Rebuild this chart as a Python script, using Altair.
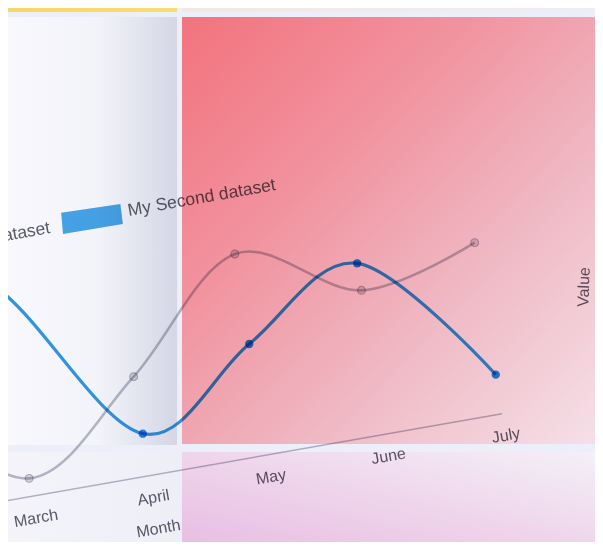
import altair as alt
import pandas as pd

# ---------------- data ----------------
axis_months = ["January", "February", "March", "April", "May", "June", "July"]
series_months = ["February", "March", "April", "May", "June", "July"]
first_dataset = [40, 6, 33, 67, 48, 57]
second_dataset = [97, 69, 14, 37, 57, 13]
series_names = ["My First dataset", "My Second dataset"]
x_title = "Month"
y_title = "Value"

# ---------------- layout ----------------
W, H = 587, 534          # view size (page is offset by the 8px body margin)
X0, Y0 = 8, 8
FOOT0 = 32.0             # baseline x of "March"
STEP = 117.5             # baseline distance between months
BASE0 = 502.0            # baseline y at x = 0
SLOPE = 0.176            # tilt of the baseline
SHEAR = 0.16             # lean of the vertical direction
UNIT = 3.0               # pixels per value unit
TEXT_ANGLE = 350
FONT = "Liberation Sans"
TEXT_COLOR = "#5c5c68"
GRAY = "#bbbcc6"
BLUE = "#3399e2"
BLEND = "multiply"

foot_expr = f"{FOOT0} + {STEP} * (datum.idx - 2)"
base_expr = f"{BASE0} - {SLOPE} * datum.foot"

xs = alt.Scale(domain=[X0, X0 + W], nice=False, zero=False)
ys = alt.Scale(domain=[Y0, Y0 + H], nice=False, zero=False, reverse=True)


def X(field):
    return alt.X(f"{field}:Q", scale=xs, axis=None)


def Y(field):
    return alt.Y(f"{field}:Q", scale=ys, axis=None)


def X2(field):
    return alt.X2(f"{field}:Q")


def Y2(field):
    return alt.Y2(f"{field}:Q")


# ---------------- decorative panels ----------------
def grad(stops, x1=0, y1=0, x2=1, y2=0):
    return {
        "gradient": "linear", "x1": x1, "y1": y1, "x2": x2, "y2": y2,
        "stops": [{"offset": o, "color": c} for o, c in stops],
    }


panels = [
    ((0, 177, 0, 12), grad([(0, "#f8d663"), (1, "#f9dc72")])),
    ((182, 603, 0, 12), grad([(0, "#f3e8e0"), (1, "#eeedf6")])),
    ((0, 177, 17, 445), grad([(0, "#f8f8fd"), (0.55, "#f3f4fa"), (1, "#d4d6e4")])),
    ((182, 603, 17, 444), grad([(0, "#f2737d"), (0.35, "#f194a0"), (0.62, "#efb5c0"), (1, "#f5e1e9")], 0, 0, 1, 1)),
    ((0, 177, 452, 550), grad([(0, "#f4f4fa"), (1, "#eeeef7")])),
    ((182, 603, 452, 550), grad([(0, "#e7bde2"), (0.45, "#eed2ea"), (1, "#f4f0f8")], 0, 1, 1, 0)),
]

layers = []
for (x0, x1, y0, y1), g in panels:
    d = pd.DataFrame({"x0": [x0], "x1": [x1], "y0": [y0], "y1": [y1]})
    layers.append(
        alt.Chart(d).mark_rect(fill=g, strokeWidth=0).encode(
            x=X("x0"), x2=X2("x1"), y=Y("y0"), y2=Y2("y1")
        )
    )

# ---------------- axis line ----------------
axis_df = pd.DataFrame({"i0": [0], "i1": [len(axis_months) - 1]})
axis_line = (
    alt.Chart(axis_df)
    .transform_calculate(
        f0=f"{FOOT0} + {STEP} * (datum.i0 - 2)",
        f1=f"{FOOT0} + {STEP} * (datum.i1 - 2)",
    )
    .transform_calculate(
        ya=f"{BASE0} - {SLOPE} * datum.f0",
        yb=f"{BASE0} - {SLOPE} * datum.f1",
    )
    .mark_rule(color="#b9b9c6", strokeWidth=1.5, blend=BLEND)
    .encode(x=X("f0"), y=Y("ya"), x2=X2("f1"), y2=Y2("yb"))
)
layers.append(axis_line)

# ---------------- tick labels & axis title ----------------
tick_df = pd.DataFrame({"label": axis_months, "idx": list(range(len(axis_months)))})
ticks = (
    alt.Chart(tick_df)
    .transform_calculate(foot=foot_expr)
    .transform_calculate(lx="datum.foot + 4", ly=f"{base_expr} + 22")
    .transform_filter(f"datum.lx > {X0}")
    .mark_text(font=FONT, fontSize=16, color=TEXT_COLOR, angle=TEXT_ANGLE,
               align="center", baseline="middle", blend=BLEND)
    .encode(x=X("lx"), y=Y("ly"), text="label:N")
)
layers.append(ticks)

title_df = pd.DataFrame({"label": [x_title], "idx": [3]})
xtitle = (
    alt.Chart(title_df)
    .transform_calculate(foot=foot_expr)
    .transform_calculate(lx="datum.foot + 9", ly=f"{base_expr} + 53")
    .mark_text(font=FONT, fontSize=16, color=TEXT_COLOR, angle=TEXT_ANGLE,
               align="center", baseline="middle", blend=BLEND)
    .encode(x=X("lx"), y=Y("ly"), text="label:N")
)
layers.append(xtitle)

ytitle_df = pd.DataFrame({"label": [y_title], "px": [584], "py": [287]})
layers.append(
    alt.Chart(ytitle_df)
    .mark_text(font=FONT, fontSize=16, color=TEXT_COLOR, angle=272,
               align="center", baseline="middle", blend=BLEND)
    .encode(x=X("px"), y=Y("py"), text="label:N")
)

# ---------------- series ----------------
rows = []
for name, vals in zip(series_names, [first_dataset, second_dataset]):
    for m, v in zip(series_months, vals):
        rows.append({"series": name, "month": m, "idx": axis_months.index(m), "value": v})
sdf = pd.DataFrame(rows)

base = (
    alt.Chart(sdf)
    .transform_calculate(foot=foot_expr)
    .transform_calculate(
        px=f"datum.foot - {SHEAR * UNIT} * datum.value",
        py=f"{base_expr} - {UNIT} * datum.value",
    )
)

color = alt.Color("series:N", scale=alt.Scale(domain=series_names, range=[GRAY, BLUE]), legend=None)

lines = base.mark_line(interpolate="cardinal", tension=0, blend=BLEND).encode(
    x=X("px"), y=Y("py"), color=color, order="idx:Q",
    strokeWidth=alt.StrokeWidth("series:N", scale=alt.Scale(domain=series_names, range=[2.6, 3.2]), legend=None),
)
layers.append(lines)

pts_first = base.transform_filter(alt.datum.series == series_names[0]).mark_circle(
    size=60, color="#dcdce2", stroke="#b0b1bb", strokeWidth=1.2, opacity=1, blend=BLEND
).encode(x=X("px"), y=Y("py"))
pts_second = base.transform_filter(alt.datum.series == series_names[1]).mark_circle(
    size=70, color="#2a8ae0", opacity=1, blend=BLEND
).encode(x=X("px"), y=Y("py"))
layers += [pts_first, pts_second]

# ---------------- legend ----------------
leg_box = pd.DataFrame({"px": [92], "py": [219]})
layers.append(
    alt.Chart(leg_box)
    .mark_point(shape="M-0.98,-0.2L0.9,-0.48L0.98,0.16L-0.92,0.48Z", size=3969,
                filled=True, color="#48a7e8", opacity=1, blend=BLEND)
    .encode(x=X("px"), y=Y("py"))
)
leg_second = pd.DataFrame({"label": [series_names[1]], "px": [128], "py": [211]})
layers.append(
    alt.Chart(leg_second)
    .mark_text(font=FONT, fontSize=17.5, color=TEXT_COLOR, angle=TEXT_ANGLE,
               align="left", baseline="middle", blend=BLEND)
    .encode(x=X("px"), y=Y("py"), text="label:N")
)
leg_first = pd.DataFrame({"label": [series_names[0]], "px": [50], "py": [228]})
layers.append(
    alt.Chart(leg_first)
    .mark_text(font=FONT, fontSize=17.5, color=TEXT_COLOR, angle=TEXT_ANGLE,
               align="right", baseline="middle", blend=BLEND)
    .encode(x=X("px"), y=Y("py"), text="label:N")
)

chart = (
    alt.layer(*layers)
    .properties(width=W, height=H, padding=0, autosize=alt.AutoSizeParams(type="none"),
                background="#eceef9")
    .configure_view(stroke=None)
)

chart.save("out.html", embed_options={"renderer": "svg", "actions": False})
